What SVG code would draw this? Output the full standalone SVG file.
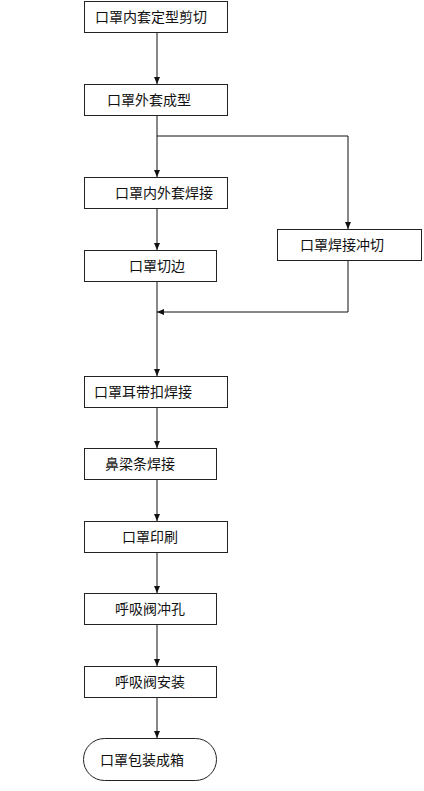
<svg xmlns="http://www.w3.org/2000/svg" width="424" height="791" viewBox="0 0 424 791">
<style>
.box{fill:#fff;stroke:#222;stroke-width:1}
.t{font-family:"Noto Sans CJK SC","Liberation Sans",sans-serif;font-size:14px;fill:#111}
.c{fill:none;stroke:#111;stroke-width:1}
</style>
<defs>
<marker id="ah" markerWidth="8" markerHeight="8" refX="7" refY="4" orient="auto" markerUnits="userSpaceOnUse">
<path d="M0,1 L7,4 L0,7 Z" fill="#111"/>
</marker>
</defs>
<rect width="424" height="791" fill="#fff"/>
<g id="connectors">
<path class="c" d="M157,32 V84" marker-end="url(#ah)"/>
<path class="c" d="M157,115 V177" marker-end="url(#ah)"/>
<path class="c" d="M157,136 H348 V229" marker-end="url(#ah)"/>
<path class="c" d="M157,208 V250" marker-end="url(#ah)"/>
<path class="c" d="M157,282 V376" marker-end="url(#ah)"/>
<path class="c" d="M348,261 V312 H157" marker-end="url(#ah)"/>
<path class="c" d="M157,407 V448" marker-end="url(#ah)"/>
<path class="c" d="M157,480 V521" marker-end="url(#ah)"/>
<path class="c" d="M157,552 V593" marker-end="url(#ah)"/>
<path class="c" d="M157,624 V666" marker-end="url(#ah)"/>
<path class="c" d="M157,697 V738" marker-end="url(#ah)"/>
</g>
<g id="n1"><rect class="box" x="84.5" y="1.5" width="143" height="31"/><text class="t" x="95" y="22">口罩内套定型剪切</text></g>
<g id="n2"><rect class="box" x="84.5" y="84.5" width="143" height="31"/><text class="t" x="107" y="105">口罩外套成型</text></g>
<g id="n3"><rect class="box" x="84.5" y="177.5" width="143" height="31"/><text class="t" x="115" y="198">口罩内外套焊接</text></g>
<g id="n4"><rect class="box" x="84.5" y="250.5" width="132" height="31"/><text class="t" x="129" y="271">口罩切边</text></g>
<g id="n5"><rect class="box" x="277.5" y="229.5" width="144" height="31"/><text class="t" x="300" y="250">口罩焊接冲切</text></g>
<g id="n6"><rect class="box" x="84.5" y="376.5" width="143" height="31"/><text class="t" x="94" y="397" textLength="98">口罩耳带扣焊接</text></g>
<g id="n7"><rect class="box" x="84.5" y="448.5" width="132" height="31"/><text class="t" x="105" y="469">鼻梁条焊接</text></g>
<g id="n8"><rect class="box" x="84.5" y="521.5" width="143" height="31"/><text class="t" x="122" y="542">口罩印刷</text></g>
<g id="n9"><rect class="box" x="84.5" y="593.5" width="132" height="31"/><text class="t" x="115" y="614">呼吸阀冲孔</text></g>
<g id="n10"><rect class="box" x="84.5" y="666.5" width="132" height="31"/><text class="t" x="115" y="687">呼吸阀安装</text></g>
<g id="n11"><rect class="box" x="83.5" y="738.5" width="133" height="42" rx="21" ry="21"/><text class="t" x="100" y="765">口罩包装成箱</text></g>
</svg>
